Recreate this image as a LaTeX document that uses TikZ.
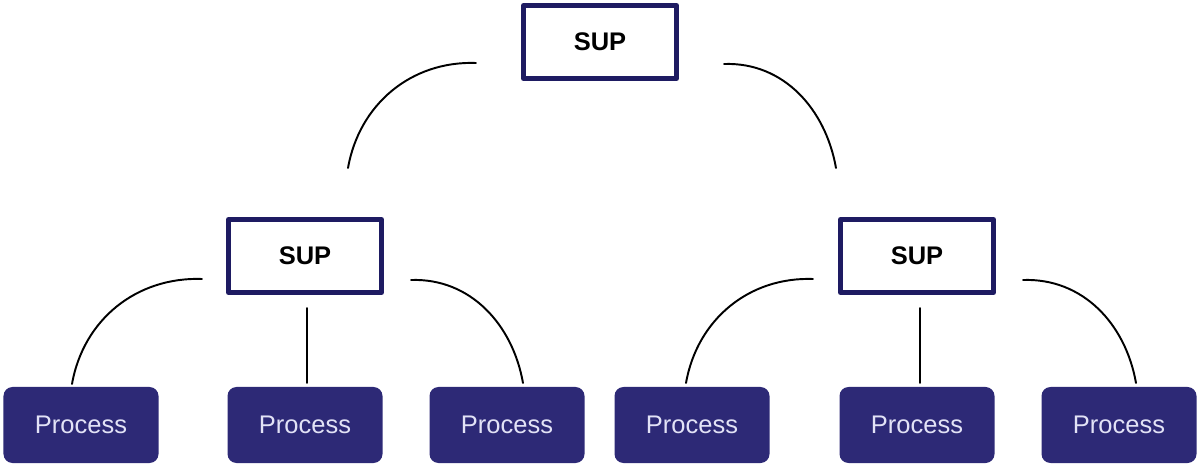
\documentclass[tikz,border=0pt]{standalone}
\usepackage{fontspec}
\setmainfont{Liberation Sans}

\definecolor{supline}{RGB}{30,27,98}
\definecolor{procfill}{RGB}{45,41,118}
\definecolor{proctext}{RGB}{226,226,246}

\begin{document}
\begin{tikzpicture}[
  x=0.2mm, y=0.2mm,
  line cap=round,
  line join=round,
  supbox/.style={draw=supline,line width=2.9pt,fill=white,
    minimum width=30.6mm,minimum height=14.6mm,inner sep=0pt,
    font=\fontsize{14.5}{17}\selectfont\bfseries},
  procbox/.style={fill=procfill,rounded corners=1.8mm,
    minimum width=31mm,minimum height=15.2mm,inner sep=0pt,
    text=proctext,font=\fontsize{14.5}{17}\selectfont},
  link/.style={line width=1.1pt,black}
]
\useasboundingbox (0,0) rectangle (1199,468);

% ------------------------------------------------------------------
% Supervisors
% ------------------------------------------------------------------
\node[supbox] (sup0) at (600,426) {SUP};
\node[supbox] (supL) at (305,212) {SUP};
\node[supbox] (supR) at (917,212) {SUP};

% ------------------------------------------------------------------
% Processes
% ------------------------------------------------------------------
\node[procbox] (pL1) at (81,43)   {Process};
\node[procbox] (pL2) at (305,43)  {Process};
\node[procbox] (pL3) at (507,43)  {Process};
\node[procbox] (pR1) at (692,43)  {Process};
\node[procbox] (pR2) at (917,43)  {Process};
\node[procbox] (pR3) at (1119,43) {Process};

% ------------------------------------------------------------------
% Links (they stop short of the boxes)
% ------------------------------------------------------------------
\coordinate (t1) at (476,405);  \coordinate (t1e) at (348,300);
\coordinate (t2) at (724,404);  \coordinate (t2e) at (836,300);
\coordinate (l1) at (202,189);  \coordinate (l1e) at (72,84);
\coordinate (l2) at (307,160);  \coordinate (l2e) at (307,85);
\coordinate (l3) at (411,188);  \coordinate (l3e) at (523,85);
\coordinate (r1) at (813,189);  \coordinate (r1e) at (686,85);
\coordinate (r2) at (920,160);  \coordinate (r2e) at (920,85);
\coordinate (r3) at (1023,188); \coordinate (r3e) at (1136,85);

\draw[link] (t1) to[out=178,in=80]  (t1e);
\draw[link] (t2) to[out=2,in=100]   (t2e);
\draw[link] (l1) to[out=178,in=80]  (l1e);
\draw[link] (l2) -- (l2e);
\draw[link] (l3) to[out=2,in=100]   (l3e);
\draw[link] (r1) to[out=178,in=80]  (r1e);
\draw[link] (r2) -- (r2e);
\draw[link] (r3) to[out=2,in=100]   (r3e);

\end{tikzpicture}
\end{document}
